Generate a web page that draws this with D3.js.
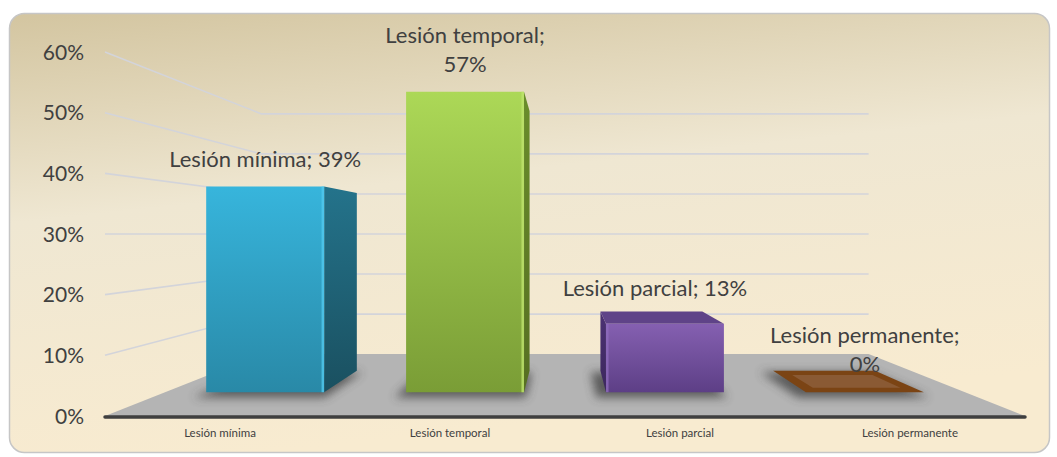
<!DOCTYPE html>
<html>
<head>
<meta charset="utf-8">
<script src="https://cdn.jsdelivr.net/npm/d3@7"></script>
<style>
  body { margin: 0; background: #fff; }
  svg { display: block; font-family: Lato, "Open Sans", sans-serif; }
</style>
</head>
<body>
<svg id="chart" width="1057" height="457"></svg>
<script>
// values
let categories = ["Lesión mínima", "Lesión temporal", "Lesión parcial", "Lesión permanente"];
let values = [0.39, 0.57, 0.13, 0];
let yTicks = [0, 0.1, 0.2, 0.3, 0.4, 0.5, 0.6];

// colours per bar: front top, front bottom, side, top face, edge highlight
let palette = [
    { top: "#37b5dc", bottom: "#2989a7", side1: "#24738b", side2: "#1a5060", cap: "#2a8db0", hi: "#52c9ee" },
    { top: "#acd857", bottom: "#7a9d36", side1: "#6a8d2b", side2: "#566f22", cap: "#93c043", hi: "#bfe46e" },
    { top: "#8560b1", bottom: "#5d3f86", side1: "#4c3274", side2: "#3c275d", cap: "#5f4388", hi: "#8f6cbd" },
    { top: "#7b4414", bottom: "#7b4414", side1: "#6b3a10", side2: "#6b3a10", cap: "#7b4414", hi: "#8a5a34" }
];

let svg = d3.select("#chart");
let defs = svg.append("defs");

// front plane scales
let x = d3.scaleBand().domain(categories).range([105, 1025]).paddingInner(0.41).paddingOuter(0.205);
let y = d3.scaleLinear().domain([0, 0.6]).range([416, 52]);

// simple perspective towards a vanishing point
let vp = { x: (x.range()[0] + x.range()[1]) / 2, y: y(0.3) };
let shrink = 0.34;
let z0 = 0.385, z1 = 0.732;

function proj(fx, fy, z) {
    let k = 1 - shrink * z;
    return [vp.x + (fx - vp.x) * k, vp.y + (fy - vp.y) * k];
}

function poly(pts) {
    return "M" + pts.map(p => p[0].toFixed(2) + "," + p[1].toFixed(2)).join("L") + "Z";
}

// background panel
let bg = defs.append("linearGradient").attr("id", "bg")
    .attr("x1", 0).attr("y1", 0).attr("x2", 0.25).attr("y2", 1);
bg.append("stop").attr("offset", 0).attr("stop-color", "#d3c5a0");
bg.append("stop").attr("offset", 0.45).attr("stop-color", "#efe7d2");
bg.append("stop").attr("offset", 1).attr("stop-color", "#f8ebd0");

defs.append("filter").attr("id", "blur")
    .attr("x", "-50%").attr("y", "-50%").attr("width", "200%").attr("height", "200%")
    .append("feGaussianBlur").attr("stdDeviation", 5);

svg.append("rect")
    .attr("x", 9.5).attr("y", 13.5)
    .attr("width", 1040).attr("height", 439)
    .attr("rx", 15)
    .attr("fill", "url(#bg)")
    .attr("stroke", "#c6c6c6")
    .attr("stroke-width", 1.5);

let xl = x.range()[0], xr = x.range()[1];

// floor
svg.append("path")
    .attr("d", poly([proj(xl, y(0), 0), proj(xr, y(0), 0), proj(xr, y(0), 1), proj(xl, y(0), 1)]))
    .attr("fill", "#b4b4b4");

// gridlines: side wall + back wall
let grid = svg.append("g").attr("fill", "none").attr("stroke", "#d3d4da").attr("stroke-width", 1.6);
yTicks.filter(t => t > 0).forEach(t => {
    grid.append("path")
        .attr("d", "M" + [proj(xl, y(t), 0), proj(xl, y(t), 1), proj(xr, y(t), 1)].map(p => p.join(",")).join("L"));
});

// y tick labels
svg.append("g").selectAll("text")
    .data(yTicks).enter().append("text")
    .attr("x", 84)
    .attr("y", d => y(d))
    .attr("dy", "0.36em")
    .attr("text-anchor", "end")
    .attr("font-size", 21)
    .attr("fill", "#404040")
    .text(d3.format(".0%"));

// bars
let bars = svg.append("g");
let bw = x.bandwidth();

categories.forEach((c, i) => {
    let col = palette[i];
    let fx0 = x(c), fx1 = x(c) + bw;
    let fy0 = y(0), fyT = y(values[i]);

    // soft shadow on the floor
    bars.append("path")
        .attr("d", poly([proj(fx0 - 8, fy0, z0 - 0.02), proj(fx1 + 6, fy0, z0 - 0.02),
                         proj(fx1 + 6, fy0, z1 + 0.04), proj(fx0 - 8, fy0, z1 + 0.04)]))
        .attr("transform", "translate(-3,4)")
        .attr("fill", "#3c3c3c")
        .attr("opacity", 0.75)
        .attr("filter", "url(#blur)");

    if (values[i] === 0) {
        // flat bar: brown square with lighter inside
        bars.append("path")
            .attr("d", poly([proj(fx0, fy0, z0), proj(fx1, fy0, z0), proj(fx1, fy0, z1), proj(fx0, fy0, z1)]))
            .attr("fill", col.top);
        bars.append("path")
            .attr("d", poly([proj(fx0 + 16, fy0, z0 + 0.07), proj(fx1 - 16, fy0, z0 + 0.07),
                             proj(fx1 - 16, fy0, z1 - 0.07), proj(fx0 + 16, fy0, z1 - 0.07)]))
            .attr("fill", col.hi);
        return;
    }

    let gf = defs.append("linearGradient").attr("id", "front" + i)
        .attr("x1", 0).attr("y1", 0).attr("x2", 0).attr("y2", 1);
    gf.append("stop").attr("offset", 0).attr("stop-color", col.top);
    gf.append("stop").attr("offset", 1).attr("stop-color", col.bottom);

    let gs = defs.append("linearGradient").attr("id", "side" + i)
        .attr("x1", 0).attr("y1", 0).attr("x2", 0).attr("y2", 1);
    gs.append("stop").attr("offset", 0).attr("stop-color", col.side1);
    gs.append("stop").attr("offset", 1).attr("stop-color", col.side2);

    // visible side: right side left of the vanishing point, left side otherwise
    let sx = (fx0 + fx1) / 2 < vp.x ? fx1 : fx0;
    bars.append("path")
        .attr("d", poly([proj(sx, fyT, z0), proj(sx, fyT, z1), proj(sx, fy0, z1), proj(sx, fy0, z0)]))
        .attr("fill", "url(#side" + i + ")");

    // top face only when below the horizon
    if (fyT > vp.y) {
        bars.append("path")
            .attr("d", poly([proj(fx0, fyT, z0), proj(fx1, fyT, z0), proj(fx1, fyT, z1), proj(fx0, fyT, z1)]))
            .attr("fill", col.cap);
    }

    bars.append("path")
        .attr("d", poly([proj(fx0, fyT, z0), proj(fx1, fyT, z0), proj(fx1, fy0, z0), proj(fx0, fy0, z0)]))
        .attr("fill", "url(#front" + i + ")");

    // thin light edge next to the side face
    let hx = sx === fx1 ? fx1 - 1.5 : fx0 + 1.5;
    let a = proj(hx, fyT, z0), b = proj(hx, fy0, z0);
    bars.append("line")
        .attr("x1", a[0]).attr("y1", a[1]).attr("x2", b[0]).attr("y2", b[1])
        .attr("stroke", col.hi).attr("stroke-width", 2.5).attr("opacity", 0.8);
});

// floor front edge
svg.append("line")
    .attr("x1", xl).attr("x2", xr)
    .attr("y1", y(0) + 1).attr("y2", y(0) + 1)
    .attr("stroke", "#3f3f3f").attr("stroke-width", 3.5)
    .attr("stroke-linecap", "round");

// category labels
svg.append("g").selectAll("text")
    .data(categories).enter().append("text")
    .attr("x", d => x(d) + bw / 2)
    .attr("y", 437)
    .attr("text-anchor", "middle")
    .attr("font-size", 11.5)
    .attr("fill", "#404040")
    .text(d => d);

// data labels
let fmt = d3.format(".0%");
let labels = svg.append("g")
    .attr("font-size", 22)
    .attr("fill", "#404040")
    .attr("text-anchor", "middle");

categories.forEach((c, i) => {
    let fx = x(c) + bw / 2;
    let fyT = y(values[i]);
    let p = proj(fx, fyT, z0);
    let gap = (fyT > vp.y && values[i] > 0) ? 28 : 20;
    // top face visible: Excel pulls the label a bit towards the centre
    let dx = (fyT > vp.y && values[i] > 0) ? -10 : 0;
    let lines = c.length > 14 ? [c + ";", fmt(values[i])] : [c + "; " + fmt(values[i])];
    let t = labels.append("text")
        .attr("x", p[0] + dx)
        .attr("y", p[1] - gap - (lines.length - 1) * 29);
    lines.forEach((l, j) => {
        t.append("tspan").attr("x", p[0] + dx).attr("dy", j ? 29 : 0).text(l);
    });
});
</script>
</body>
</html>
